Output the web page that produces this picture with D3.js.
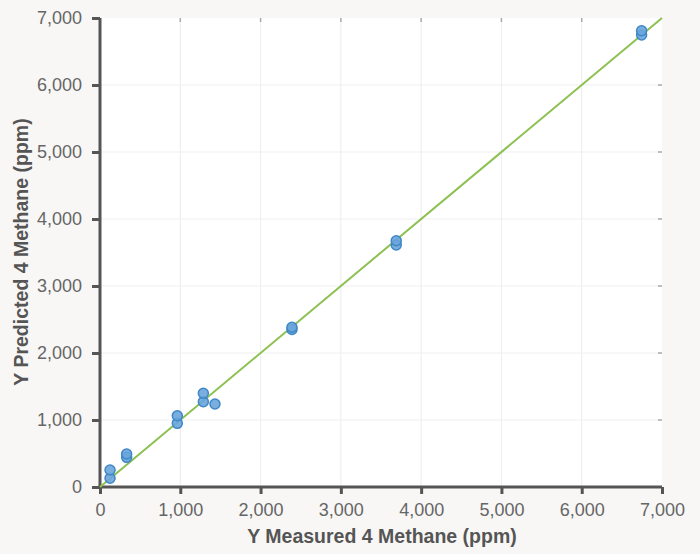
<!DOCTYPE html>
<html>
<head>
<meta charset="utf-8">
<script src="https://cdn.jsdelivr.net/npm/d3@7"></script>
<style>
  body { margin: 0; background: #f8f7f6; }
  svg { display: block; font-family: "Liberation Sans", Arial, sans-serif; }
</style>
</head>
<body>
<script>
// measured vs predicted methane
var measured  = [125, 125, 332, 332, 963, 963, 1287, 1287, 1432, 2391, 2391, 3690, 3690, 6746, 6746];
var predicted = [130, 254, 443, 492, 950, 1064, 1273, 1398, 1239, 2350, 2384, 3612, 3676, 6746, 6810];
var tickValues = [0, 1000, 2000, 3000, 4000, 5000, 6000, 7000];
var fitLine = [[0, 0], [7000, 7000]];

var width = 700, height = 554,
    margin = {top: 18, right: 38, bottom: 67, left: 100};

var svg = d3.select("body").append("svg")
    .attr("width", width)
    .attr("height", height);

var x = d3.scaleLinear().domain([0, 7000]).range([margin.left, width - margin.right]);
var y = d3.scaleLinear().domain([0, 7000]).range([height - margin.bottom, margin.top]);
var fmt = d3.format(",");

// plot background
svg.append("rect")
    .attr("x", x(0)).attr("y", y(7000))
    .attr("width", x(7000) - x(0)).attr("height", y(0) - y(7000))
    .attr("fill", "#fff");

// grid
svg.append("g").selectAll("line").data(tickValues.slice(1, -1)).enter().append("line")
    .attr("x1", function(d) { return x(d); }).attr("x2", function(d) { return x(d); })
    .attr("y1", y(0)).attr("y2", y(7000))
    .attr("stroke", "#efefef").attr("stroke-width", 1.2);
svg.append("g").selectAll("line").data(tickValues.slice(1, -1)).enter().append("line")
    .attr("y1", function(d) { return y(d); }).attr("y2", function(d) { return y(d); })
    .attr("x1", x(0)).attr("x2", x(7000))
    .attr("stroke", "#efefef").attr("stroke-width", 1.2);

// faint mirror ticks top / right
svg.append("g").selectAll("line").data(tickValues.slice(1, -1)).enter().append("line")
    .attr("x1", function(d) { return x(d); }).attr("x2", function(d) { return x(d); })
    .attr("y1", y(7000)).attr("y2", y(7000) + 4)
    .attr("stroke", "#aaa").attr("stroke-width", 1.5);
svg.append("g").selectAll("line").data(tickValues.slice(1, -1)).enter().append("line")
    .attr("y1", function(d) { return y(d); }).attr("y2", function(d) { return y(d); })
    .attr("x1", x(7000) - 4).attr("x2", x(7000))
    .attr("stroke", "#aaa").attr("stroke-width", 1.5);

// axes
var xAxis = svg.append("g")
    .attr("transform", "translate(0," + y(0) + ")")
    .call(d3.axisBottom(x).tickValues(tickValues).tickFormat(fmt).tickSize(7).tickPadding(9));
var yAxis = svg.append("g")
    .attr("transform", "translate(" + x(0) + ",0)")
    .call(d3.axisLeft(y).tickValues(tickValues).tickFormat(fmt).tickSize(8).tickPadding(10));

[xAxis, yAxis].forEach(function(g) {
  g.select(".domain").attr("stroke", "#555").attr("stroke-width", 3);
  g.selectAll(".tick line").attr("stroke", "#555").attr("stroke-width", 3);
  g.selectAll(".tick text").attr("fill", "#666").style("font-size", "18px");
});
xAxis.select(".domain").attr("d", "M" + (x(0) - 1.5) + ",0H" + x(7000));
yAxis.select(".domain").attr("d", "M0," + (y(0) + 1.5) + "V" + y(7000));

// fit line
svg.append("path")
    .datum(fitLine)
    .attr("d", d3.line().x(function(d) { return x(d[0]); }).y(function(d) { return y(d[1]); }))
    .attr("fill", "none")
    .attr("stroke", "#8cc152")
    .attr("stroke-width", 2);

// points
svg.append("g").selectAll("circle")
    .data(measured)
  .enter().append("circle")
    .attr("cx", function(d) { return x(d); })
    .attr("cy", function(d, i) { return y(predicted[i]); })
    .attr("r", 5)
    .attr("fill", "#6aa5dc")
    .attr("fill-opacity", 0.9)
    .attr("stroke", "#3f87c7")
    .attr("stroke-width", 1.5);

// titles
svg.append("text")
    .attr("x", 382)
    .attr("y", 543)
    .attr("text-anchor", "middle")
    .attr("fill", "#555")
    .style("font-size", "19.5px").style("font-weight", "bold")
    .text("Y Measured 4 Methane (ppm)");
svg.append("text")
    .attr("transform", "translate(28,252) rotate(-90)")
    .attr("text-anchor", "middle")
    .attr("fill", "#555")
    .style("font-size", "19.5px").style("font-weight", "bold")
    .text("Y Predicted 4 Methane (ppm)");
</script>
</body>
</html>
